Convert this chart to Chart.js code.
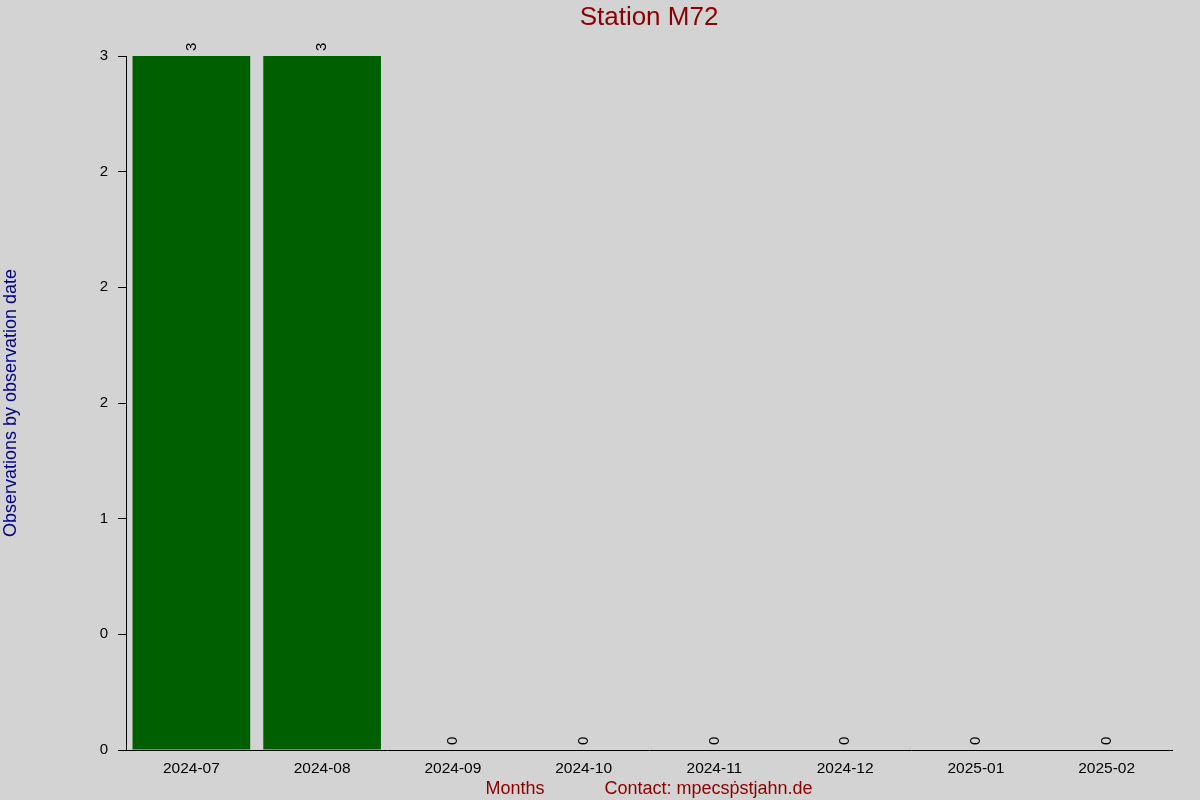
<!DOCTYPE html>
<html>
<head>
<meta charset="utf-8">
<script src="https://cdn.jsdelivr.net/npm/chart.js@4/dist/chart.umd.min.js"></script>
<style>
    html, body { margin: 0; padding: 0; background: #d3d3d3; }
    #wrap { width: 1200px; height: 800px; }
</style>
</head>
<body>
<div id="wrap"><canvas id="stationChart" width="1200" height="800"></canvas></div>
<script>
const months = ['2024-07', '2024-08', '2024-09', '2024-10', '2024-11', '2024-12', '2025-01', '2025-02'];
const observations = [3, 3, 0, 0, 0, 0, 0, 0];
const yTickLabels = ['0', '0', '1', '2', '2', '2', '3'];

const chartTitle = 'Station M72';
const yTitle = 'Observations by observation date';
const xTitle = 'Months            Contact: mpecs\u1e57stjahn.de';

const FONT = '"Liberation Sans", Arial, sans-serif';

// background + title + value labels
const decorPlugin = {
    id: 'decor',
    beforeDraw(chart) {
        const ctx = chart.ctx;
        ctx.save();
        ctx.fillStyle = '#d3d3d3';
        ctx.fillRect(0, 0, chart.width, chart.height);
        ctx.restore();
    },
    afterDraw(chart) {
        const ctx = chart.ctx;
        const area = chart.chartArea;
        ctx.save();
        ctx.fillStyle = '#8b0000';
        ctx.font = '26px ' + FONT;
        ctx.textAlign = 'center';
        ctx.textBaseline = 'middle';
        ctx.fillText(chartTitle, (area.left + area.right) / 2, 18);

        // rotated value labels above each bar
        const meta = chart.getDatasetMeta(0);
        ctx.fillStyle = '#000000';
        ctx.font = '15px ' + FONT;
        ctx.textAlign = 'left';
        ctx.textBaseline = 'middle';
        meta.data.forEach(function(bar, i) {
            ctx.save();
            ctx.translate(bar.x, bar.y - 5);
            ctx.rotate(-Math.PI / 2);
            ctx.fillText(String(observations[i]), 0, 0);
            ctx.restore();
        });
        ctx.restore();
    }
};

const ctx1 = document.getElementById('stationChart').getContext('2d');
new Chart(ctx1, {
    type: 'bar',
    data: {
        labels: months,
        datasets: [{
            label: 'Observations',
            data: observations,
            backgroundColor: '#006000',
            borderWidth: 0,
            barPercentage: 0.9,
            categoryPercentage: 1.0
        }]
    },
    options: {
        responsive: false,
        animation: false,
        devicePixelRatio: 1,
        layout: {
            padding: { left: 0, right: 28, top: 56, bottom: 0 }
        },
        plugins: {
            legend: { display: false },
            title: { display: false },
            tooltip: { enabled: false }
        },
        scales: {
            x: {
                grid: { display: false },
                border: { display: true, color: '#000000', width: 1 },
                ticks: {
                    color: '#000000',
                    font: { family: FONT, size: 15.5 },
                    padding: 1,
                    maxRotation: 0,
                    autoSkip: false
                },
                title: {
                    display: true,
                    text: xTitle,
                    color: '#8b0000',
                    font: { family: FONT, size: 18 },
                    padding: { top: 0, bottom: 0 }
                },
                afterFit: function(scale) { scale.height = 50; }
            },
            y: {
                min: 0,
                max: 3,
                grid: {
                    display: true,
                    drawOnChartArea: false,
                    drawTicks: true,
                    tickLength: 8,
                    color: '#000000'
                },
                border: { display: true, color: '#000000', width: 1 },
                ticks: {
                    stepSize: 0.5,
                    color: '#000000',
                    font: { family: FONT, size: 15 },
                    padding: 10,
                    callback: function(value, index) {
                        return yTickLabels[index];
                    }
                },
                title: {
                    display: true,
                    text: yTitle,
                    color: '#00008b',
                    font: { family: FONT, size: 18 },
                    padding: { top: 0, bottom: 0 }
                },
                afterFit: function(scale) { scale.width = 126; }
            }
        }
    },
    plugins: [decorPlugin]
});
</script>
</body>
</html>
